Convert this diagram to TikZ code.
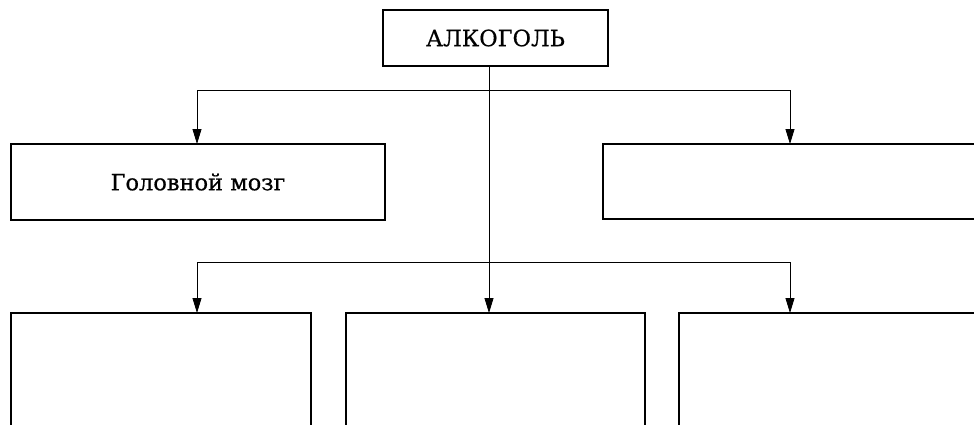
\documentclass[tikz,border=0pt]{standalone}
\usepackage{fontspec}
\setmainfont{DejaVu Serif}
\newfontfamily\heavyserif[FakeBold=0.6]{DejaVu Serif}
\usetikzlibrary{arrows.meta}
\begin{document}
\begin{tikzpicture}[x=1pt,y=1pt,
  box/.style={draw=black,line width=1.2pt,rectangle,inner sep=0pt,font=\heavyserif\fontsize{22.5}{26}\selectfont},
  arr/.style={draw=black,line width=0.8pt,-{Triangle[length=15pt,width=9pt]}},
  ln/.style={draw=black,line width=0.8pt}]
\useasboundingbox (0,0) rectangle (974,-424);
\clip (0,0) rectangle (974,-424);
\node[box,minimum width=225pt,minimum height=56pt] (alc) at (495.5,-38) {АЛКОГОЛЬ};
\node[box,minimum width=374pt,minimum height=76pt] (brain) at (198,-182) {Головной мозг};
\node[box,minimum width=400pt,minimum height=75pt] (r1) at (803,-181.5) {};
\node[box,minimum width=300pt,minimum height=150pt] (b1) at (161,-388) {};
\node[box,minimum width=299pt,minimum height=150pt] (b2) at (495.5,-388) {};
\node[box,minimum width=320pt,minimum height=150pt] (b3) at (839,-388) {};
\coordinate (s) at (489,-66);
\coordinate (j1) at (489,-90);
\coordinate (j2) at (489,-262);
\coordinate (a1) at (197,-144);
\coordinate (a2) at (790,-144);
\coordinate (a3) at (197,-313);
\coordinate (a4) at (489,-313);
\coordinate (a5) at (790,-313);
\draw[ln] (s) -- (j2);
\draw[arr] (j1) -| (a1);
\draw[arr] (j1) -| (a2);
\draw[arr] (j2) -- (a4);
\draw[arr] (j2) -| (a3);
\draw[arr] (j2) -| (a5);
\end{tikzpicture}
\end{document}
